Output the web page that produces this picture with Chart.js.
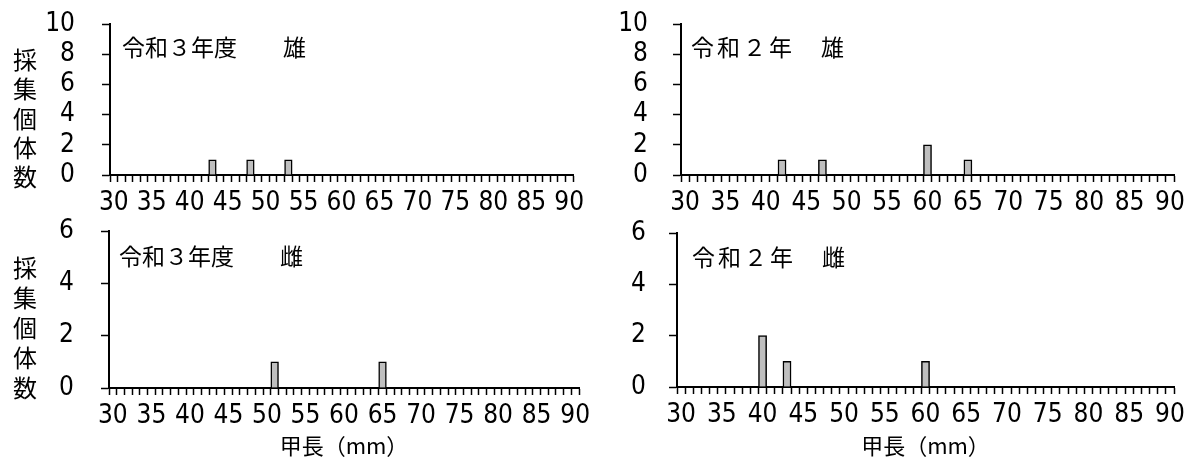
<!DOCTYPE html>
<html><head><meta charset="utf-8">
<script src="https://cdn.jsdelivr.net/npm/chart.js@4.4.1/dist/chart.umd.min.js"></script>
<style>
html,body{margin:0;padding:0;background:#fff;}
#wrap{position:relative;width:1186px;height:459px;overflow:hidden;background:#fff;}
canvas{position:absolute;}
</style></head><body>
<div id="wrap">
<canvas id="c1" width="600" height="220" style="left:0;top:0"></canvas>
<canvas id="c2" width="586" height="220" style="left:600px;top:0"></canvas>
<canvas id="c3" width="600" height="249" style="left:0;top:210px"></canvas>
<canvas id="c4" width="586" height="249" style="left:600px;top:210px"></canvas>
</div>
<script>
// ---- data ----
const lengthCategories = [30,31,32,33,34,35,36,37,38,39,40,41,42,43,44,45,46,47,48,49,50,51,52,53,54,55,56,57,58,59,60,61,62,63,64,65,66,67,68,69,70,71,72,73,74,75,76,77,78,79,80,81,82,83,84,85,86,87,88,89,90];
const xTickLabels = [30,35,40,45,50,55,60,65,70,75,80,85,90];
const yTicksMale = [0,2,4,6,8,10];
const yTicksFemale = [0,2,4,6];

const r3MaleLengths = [43,48,53];
const r3MaleCounts  = [1,1,1];
const r2MaleLengths = [42,47,60,65];
const r2MaleCounts  = [1,1,2,1];
const r3FemaleLengths = [51,65];
const r3FemaleCounts  = [1,1];
const r2FemaleLengths = [40,43,60];
const r2FemaleCounts  = [2,1,1];

const panelTitles = ['令和３年度　　雄','令和２年　雄','令和３年度　　雌','令和２年　雌'];
const yAxisTitle = '採集個体数';
const xAxisTitle = '甲長（mm）';

// ---- styling / rendering ----
Chart.defaults.color = '#000';
const NUM_FONT = "'Liberation Sans Narrow','DejaVu Sans Condensed','Arial Narrow',sans-serif";
const JP_FONT = "'Noto Sans CJK JP','Noto Sans CJK SC',sans-serif";

const panelText = {
  id: 'panelText',
  afterDraw(chart, args, o) {
    const ctx = chart.ctx, a = chart.chartArea;
    ctx.save();
    ctx.fillStyle = '#000';
    ctx.textBaseline = 'middle';
    ctx.font = '23px ' + JP_FONT;
    ctx.letterSpacing = o.spacing + 'px';
    ctx.textAlign = 'left';
    ctx.fillText(o.title, a.left + o.dx, a.top + o.dy);
    if (o.yTitle) {
      ctx.letterSpacing = '0px';
      ctx.font = '24px ' + JP_FONT;
      ctx.textAlign = 'center';
      const chars = Array.from(o.yTitle);
      chars.forEach((ch, i) => ctx.fillText(ch, o.yx, o.y0 + i * o.ystep));
    }
    ctx.restore();
  }
};

function toPoints(lengths, counts) {
  return lengths.map((l, i) => ({x: l, y: counts[i]}));
}

function makeChart(id, cfg) {
  const yTicks = cfg.yTicks;
  new Chart(document.getElementById(id), {
    type: 'bar',
    data: {
      labels: lengthCategories,
      datasets: [{
        data: toPoints(cfg.lengths, cfg.counts),
        backgroundColor: '#bfbfbf',
        borderColor: '#000',
        borderWidth: 1.5,
        borderSkipped: 'bottom',
        barPercentage: 1,
        categoryPercentage: 1
      }]
    },
    options: {
      responsive: false,
      animation: false,
      events: [],
      layout: {autoPadding: false, padding: {left: 0, right: cfg.padR, top: cfg.padT, bottom: 0}},
      plugins: {
        legend: {display: false},
        tooltip: {enabled: false},
        title: {display: false},
        panelText: {title: cfg.title, dx: cfg.dx, dy: cfg.dy, spacing: cfg.spacing,
          yTitle: cfg.yTitle, yx: cfg.yx, y0: cfg.y0, ystep: cfg.ystep}
      },
      scales: {
        x: {
          type: 'category',
          offset: true,
          grid: {offset: true, drawOnChartArea: false, drawTicks: true, tickLength: 7, tickWidth: 1.5, tickColor: '#000'},
          border: {display: true, color: '#000', width: 2},
          ticks: {
            autoSkip: false, maxRotation: 0, minRotation: 0, padding: 6,
            font: {family: NUM_FONT, size: 26},
            callback(value) {
              const lab = this.getLabelForValue(value);
              return xTickLabels.includes(Number(lab)) ? String(lab) : '';
            }
          },
          title: cfg.xTitle ? {display: true, text: cfg.xTitle, font: {family: JP_FONT, size: 22}, padding: {top: 0, bottom: 0}} : {display: false},
          afterFit(s) { s.height = cfg.xH; s.paddingLeft = 0; s.paddingRight = 0; }
        },
        y: {
          min: yTicks[0], max: yTicks[yTicks.length - 1],
          afterBuildTicks(s) { s.ticks = yTicks.map(v => ({value: v})); },
          grid: {drawOnChartArea: false, drawTicks: true, tickLength: 8, tickWidth: 1.5, tickColor: '#000'},
          border: {display: true, color: '#000', width: 2},
          ticks: {autoSkip: false, padding: cfg.yPad, font: {family: NUM_FONT, size: 26}},
          afterFit(s) { s.width = cfg.yW; s.paddingTop = 0; s.paddingBottom = 0; }
        }
      }
    },
    plugins: [panelText]
  });
}

makeChart('c1', {lengths: r3MaleLengths, counts: r3MaleCounts, yTicks: yTicksMale,
  title: panelTitles[0], dx: 12, dy: 23, spacing: 0,
  yTitle: yAxisTitle, yx: 25, y0: 60, ystep: 29.2,
  padR: 27, padT: 24, yW: 110, xH: 45, yPad: 27});
makeChart('c2', {lengths: r2MaleLengths, counts: r2MaleCounts, yTicks: yTicksMale,
  title: panelTitles[1], dx: 10, dy: 23, spacing: 3,
  padR: 12, padT: 24, yW: 81, xH: 45, yPad: 25});
makeChart('c3', {lengths: r3FemaleLengths, counts: r3FemaleCounts, yTicks: yTicksFemale,
  title: panelTitles[2], dx: 10, dy: 25, spacing: 0,
  yTitle: yAxisTitle, yx: 25, y0: 58, ystep: 30,
  xTitle: xAxisTitle,
  padR: 21, padT: 21, yW: 109, xH: 71, yPad: 27});
makeChart('c4', {lengths: r2FemaleLengths, counts: r2FemaleCounts, yTicks: yTicksFemale,
  title: panelTitles[3], dx: 15, dy: 24, spacing: 3,
  xTitle: xAxisTitle,
  padR: 12, padT: 23, yW: 77, xH: 72, yPad: 23});
</script>
</body></html>
